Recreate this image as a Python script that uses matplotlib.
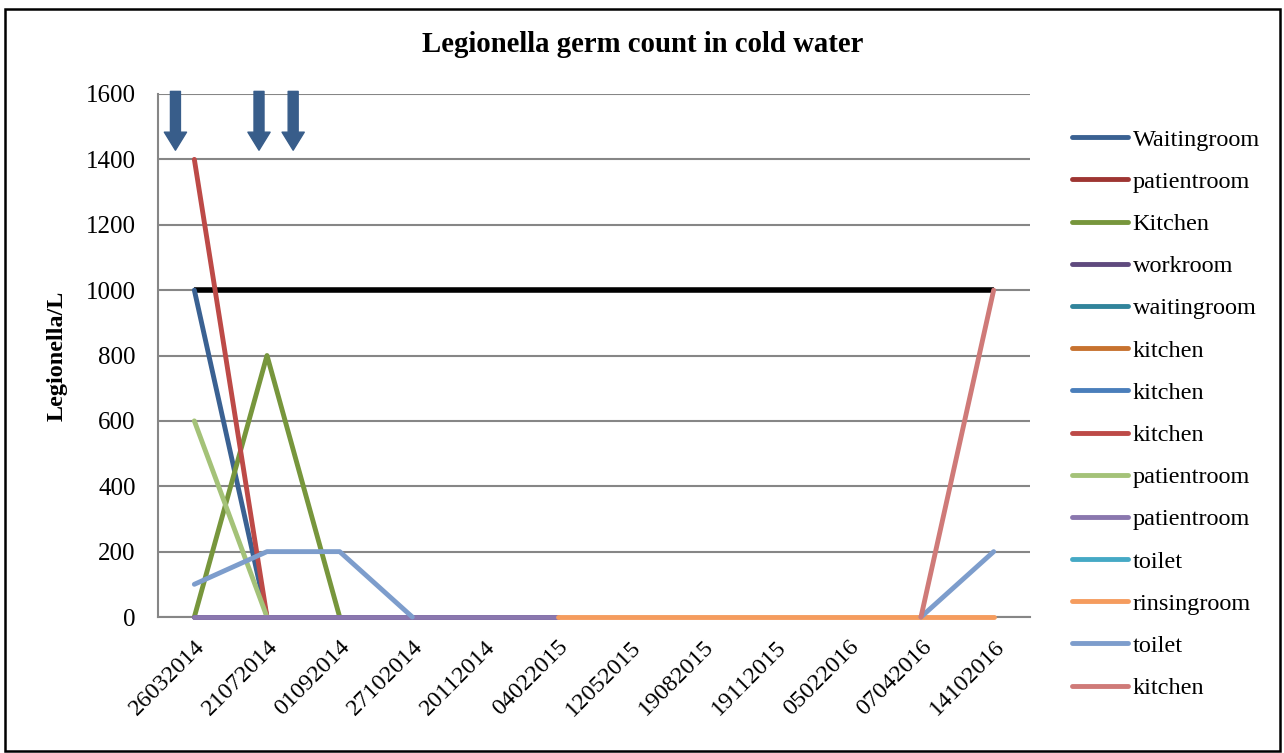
import numpy as np
import matplotlib.pyplot as plt

plt.rcParams['font.family'] = ['Liberation Serif', 'DejaVu Serif']

nan = np.nan

dates = ['26032014', '21072014', '01092014', '27102014', '20112014', '04022015',
         '12052015', '19082015', '19112015', '05022016', '07042016', '14102016']

# series in legend order
waitingroom_1 = [1000, 0, nan, nan, nan, nan, nan, nan, nan, nan, nan, nan]
patientroom_1 = [nan, nan, nan, nan, nan, nan, nan, nan, nan, nan, nan, nan]
kitchen_1 = [0, 800, 0, nan, nan, nan, nan, nan, nan, nan, nan, nan]
workroom = [0, 0, 0, 0, 0, 0, nan, nan, nan, nan, nan, nan]
waitingroom_2 = [nan, nan, nan, nan, nan, nan, nan, nan, nan, nan, nan, nan]
kitchen_2 = [nan, nan, nan, nan, nan, nan, nan, nan, nan, nan, nan, nan]
kitchen_3 = [nan, nan, nan, nan, nan, nan, nan, nan, nan, nan, nan, nan]
kitchen_4 = [1400, 0, nan, nan, nan, nan, nan, nan, nan, nan, nan, nan]
patientroom_2 = [600, 0, nan, nan, nan, nan, nan, nan, nan, nan, nan, nan]
patientroom_3 = [0, 0, 0, 0, 0, 0, nan, nan, nan, nan, nan, nan]
toilet_1 = [nan, nan, nan, nan, nan, nan, nan, nan, nan, nan, nan, nan]
rinsingroom = [nan, nan, nan, nan, nan, 0, 0, 0, 0, 0, 0, 0]
toilet_2 = [100, 200, 200, 0, nan, nan, nan, nan, nan, nan, 0, 200]
kitchen_5 = [nan, nan, nan, nan, nan, nan, nan, nan, nan, nan, 0, 1000]

limit = 1000
arrow_x = [-0.26, 0.89, 1.36]

series = [
    ('Waitingroom', '#3A6192', waitingroom_1),
    ('patientroom', '#9E3532', patientroom_1),
    ('Kitchen', '#77963C', kitchen_1),
    ('workroom', '#5F4A7E', workroom),
    ('waitingroom', '#31849B', waitingroom_2),
    ('kitchen', '#C7722F', kitchen_2),
    ('kitchen', '#4A7EBB', kitchen_3),
    ('kitchen', '#BD4A47', kitchen_4),
    ('patientroom', '#A4C278', patientroom_2),
    ('patientroom', '#8A77AE', patientroom_3),
    ('toilet', '#45A9C5', toilet_1),
    ('rinsingroom', '#F59C5E', rinsingroom),
    ('toilet', '#7D9DCC', toilet_2),
    ('kitchen', '#CF7A78', kitchen_5),
]

fig = plt.figure(figsize=(12.84, 7.53), dpi=100)
ax = fig.add_axes([158/1284, 1-617/753, 872/1284, 523/753])

x = np.arange(len(dates))
ax.plot([x[0], x[-1]], [limit, limit], color='black', lw=4, zorder=2,
        solid_capstyle='butt')
for lab, col, vals in series:
    ax.plot(x, vals, color=col, lw=3.5, label=lab, zorder=3,
            solid_capstyle='round', clip_on=False)

ax.set_xlim(-0.5, len(dates) - 0.5)
ax.set_ylim(0, 1600)
ax.set_yticks(np.arange(0, 1601, 200))
ax.set_xticks(x)
ax.set_xticklabels(dates, rotation=45, ha='right', va='top',
                   rotation_mode='anchor', fontsize=17.5)
ax.tick_params(axis='y', labelsize=18, length=0, pad=16)
ax.tick_params(axis='x', length=0, pad=14)
ax.yaxis.grid(True, color='#868686', lw=1.5)
ax.set_axisbelow(True)
for s in ['top', 'right']:
    ax.spines[s].set_visible(False)
for s in ['left', 'bottom']:
    ax.spines[s].set_color('#868686')
    ax.spines[s].set_linewidth(1.5)

ax.set_ylabel('Legionella/L', fontsize=17.4, fontweight='bold', labelpad=13)
fig.text(643/1284, 1-45/753, 'Legionella germ count in cold water',
         ha='center', va='center', fontsize=20.7, fontweight='bold')

for ax_x in arrow_x:
    ax.annotate('', xy=(ax_x, 1428), xytext=(ax_x, 1608),
                xycoords='data', textcoords='data', annotation_clip=False,
                arrowprops=dict(arrowstyle='simple,head_length=1.3,head_width=1.6,tail_width=0.72',
                                mutation_scale=10, color='#385D8A', shrinkA=0, shrinkB=0))

fig.legend(loc='upper left', bbox_to_anchor=(1062/1284, 1-119/753), frameon=False,
           fontsize=17.5, handlelength=2.3, handletextpad=0.2, labelspacing=0.83,
           borderaxespad=0)

fig.patches.append(plt.Rectangle((5/1284, 0.002), 1275/1284, 1-11/753,
                                 transform=fig.transFigure, fill=False,
                                 edgecolor='black', lw=1.8))

fig.savefig('out.png', dpi=100)
